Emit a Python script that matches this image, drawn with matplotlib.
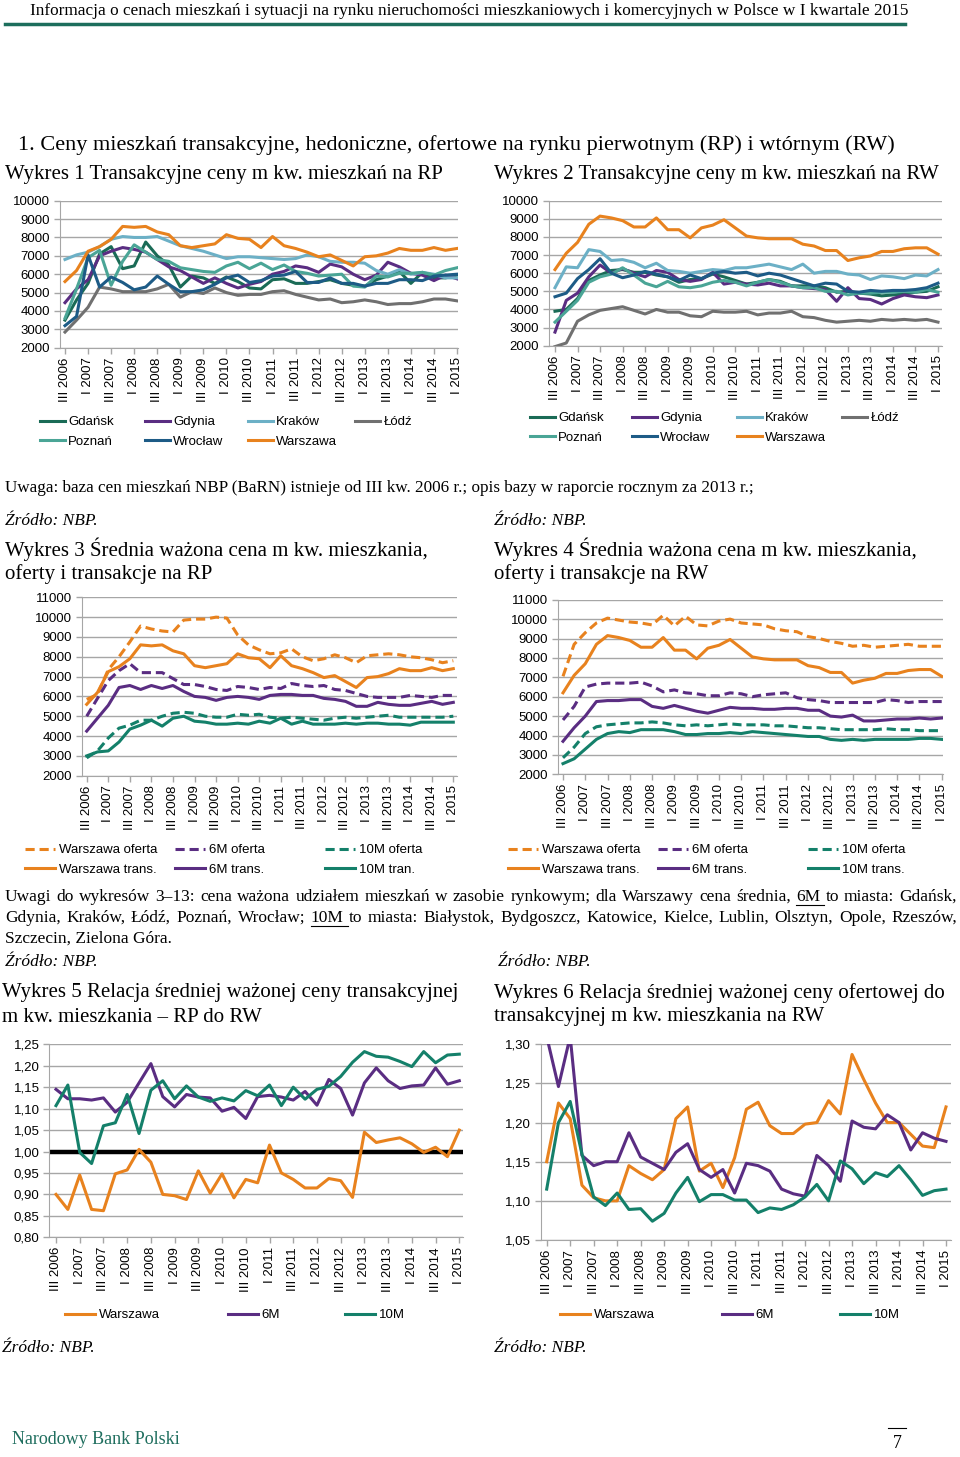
import numpy as np
import matplotlib.pyplot as plt
from matplotlib.lines import Line2D

# quarters III 2006 .. I 2015, labels on every second quarter
tick_labels = ['III 2006', 'I 2007', 'III 2007', 'I 2008', 'III 2008', 'I 2009',
               'III 2009', 'I 2010', 'III 2010', 'I 2011', 'III 2011', 'I 2012',
               'III 2012', 'I 2013', 'III 2013', 'I 2014', 'III 2014', 'I 2015']
n = 35

# Wykres 1 - transaction prices, primary market
gdansk_rp = [3500, 4600, 5500, 7100, 7500, 6300, 6450, 7750, 7000, 6500, 5300, 5900, 5800, 5500, 5850, 5600, 5250, 5200,
             5700, 5750, 5500, 5500, 5600, 5700, 5500, 5400, 5350, 5700, 5900, 6150, 5500, 6100, 5800, 5800, 5950]
gdynia_rp = [4450, 5200, 5700, 7000, 7250, 7450, 7350, 7200, 6800, 6400, 6200, 5850, 5500, 5800, 5500, 5250, 5450, 5600,
             6000, 6150, 6450, 6350, 6100, 6550, 6400, 6000, 5700, 5950, 6650, 6400, 6050, 5950, 5650, 5950, 5750]
krakow_rp = [6800, 7050, 7200, 7500, 7900, 8050, 8000, 8000, 8050, 7800, 7550, 7400, 7250, 7050, 6850, 6950, 6950, 6900,
             6850, 6800, 6850, 7050, 6950, 6700, 6650, 6650, 6600, 6200, 6000, 6250, 6000, 6100, 6000, 5800, 5800]
lodz_rp = [2850, 3500, 4200, 5300, 5200, 5050, 5050, 5050, 5200, 5450, 4750, 5050, 4950, 5250, 5000, 4850, 4900, 4900,
           5050, 5100, 4900, 4750, 4600, 4650, 4450, 4500, 4600, 4500, 4350, 4400, 4400, 4500, 4650, 4650, 4550]
poznan_rp = [3600, 5200, 6900, 7300, 5400, 6700, 7600, 7200, 6800, 6700, 6350, 6250, 6150, 6100, 6450, 6650, 6300, 6600,
             6250, 6500, 6150, 6050, 5900, 5950, 6000, 5350, 5300, 5900, 5850, 6050, 6050, 6100, 5950, 6200, 6350]
wroclaw_rp = [3200, 3700, 7050, 5300, 5850, 5550, 5150, 5300, 5900, 5450, 5050, 5050, 5150, 5450, 5800, 5950, 5550, 5650,
              5900, 5950, 6150, 5550, 5550, 5800, 5500, 5500, 5350, 5500, 5500, 5700, 5700, 5650, 5900, 5950, 6000]
warszawa_rp = [5600, 6200, 7250, 7500, 7900, 8600, 8550, 8600, 8300, 8150, 7550, 7450, 7550, 7650, 8150, 7950, 7900, 7450,
               8050, 7550, 7400, 7200, 6950, 7050, 6750, 6450, 6950, 7000, 7150, 7400, 7300, 7300, 7450, 7300, 7400]

# Wykres 2 - transaction prices, secondary market
gdansk_rw = [3900, 4000, 4600, 5600, 5900, 6150, 6200, 6050, 6050, 5900, 5800, 5500, 5650, 5700, 5950, 5800, 5600, 5400,
             5500, 5650, 5550, 5300, 5300, 5300, 5200, 4950, 5000, 4900, 4850, 4750, 4800, 4850, 4950, 5000, 5250]
gdynia_rw = [2750, 4500, 4900, 5800, 6450, 6000, 6250, 6000, 5800, 6150, 6050, 5650, 5550, 5650, 6050, 5400, 5500, 5400,
             5350, 5450, 5300, 5300, 5200, 5150, 5100, 4450, 5200, 4600, 4550, 4300, 4600, 4800, 4700, 4650, 4800]
krakow_rw = [5200, 6350, 6300, 7300, 7200, 6700, 6750, 6600, 6300, 6550, 6150, 6100, 6000, 6100, 6200, 6150, 6300, 6300,
             6400, 6500, 6350, 6200, 6500, 6000, 6100, 6100, 5950, 5900, 5650, 5850, 5800, 5700, 5900, 5850, 6200]
lodz_rw = [1950, 2150, 3350, 3700, 3950, 4050, 4150, 3950, 3750, 4000, 3850, 3850, 3650, 3600, 3900, 3850, 3850, 3900,
           3700, 3800, 3800, 3900, 3600, 3550, 3400, 3300, 3350, 3400, 3350, 3450, 3400, 3450, 3400, 3450, 3300]
poznan_rw = [3300, 3900, 4500, 5500, 5800, 5950, 6300, 5900, 5450, 5250, 5550, 5250, 5200, 5300, 5500, 5600, 5500, 5300,
             5500, 5650, 5500, 5300, 5200, 5200, 5000, 5000, 4800, 4900, 4900, 4950, 4950, 5000, 4950, 5100, 4950]
wroclaw_rw = [4700, 4900, 5700, 6200, 6800, 6000, 5750, 5900, 6100, 5950, 5800, 5600, 5900, 5700, 6000, 6100, 6000, 6050,
              5850, 6000, 5900, 5700, 5500, 5300, 5450, 5400, 5000, 4950, 5050, 5000, 5050, 5050, 5100, 5200, 5450]
warszawa_rw = [6200, 7100, 7700, 8700, 9150, 9050, 8900, 8550, 8550, 9050, 8400, 8400, 7950, 8500, 8650, 8950, 8500, 8050,
               7950, 7900, 7900, 7900, 7600, 7500, 7250, 7250, 6700, 6850, 6950, 7200, 7200, 7350, 7400, 7400, 7050]

# Wykres 3 - offer vs transaction, primary market
warszawa_rp_of = [5850, 6100, 7350, 8000, 8750, 9550, 9400, 9300, 9250, 9850, 9900, 9900, 10000, 9950, 9100, 8600, 8350,
                  8150, 8200, 8400, 8000, 7800, 7900, 8100, 7950, 7700, 8050, 8100, 8150, 8100, 8000, 7950, 7850, 7700, 7800]
m6_rp_of = [5000, 5900, 6800, 7300, 7650, 7200, 7200, 7200, 6900, 6600, 6600, 6500, 6350, 6300, 6500, 6450, 6350, 6450,
            6400, 6650, 6550, 6500, 6550, 6350, 6300, 6150, 6000, 5950, 5950, 5950, 6050, 6000, 5950, 6050, 6050]
m6_rp_tr = [4250, 4900, 5550, 6450, 6550, 6350, 6550, 6400, 6550, 6250, 6000, 5950, 5800, 5950, 6000, 5950, 5850, 6050,
            6100, 6100, 6050, 6050, 5900, 5850, 5750, 5500, 5500, 5700, 5600, 5550, 5550, 5650, 5750, 5600, 5700]
m10_rp_of = [2900, 3250, 3900, 4400, 4550, 4800, 4800, 5000, 5150, 5200, 5150, 5000, 4950, 4950, 5100, 5050, 5100, 4950,
             4900, 4950, 4900, 4850, 4800, 4900, 4950, 4900, 4950, 5000, 5050, 4950, 4950, 4950, 4950, 4950, 5000]
m10_rp_tr = [3000, 3200, 3250, 3700, 4350, 4550, 4800, 4500, 4900, 5000, 4750, 4700, 4600, 4600, 4650, 4600, 4750, 4650,
             4900, 4600, 4750, 4600, 4600, 4600, 4650, 4600, 4650, 4650, 4600, 4600, 4550, 4700, 4700, 4700, 4700]

# Wykres 4 - offer vs transaction, secondary market
warszawa_rw_of = [7050, 8700, 9300, 9800, 10050, 9950, 9850, 9800, 9700, 10200, 9650, 10150, 9700, 9650, 9900, 10000, 9800,
                  9750, 9700, 9500, 9400, 9350, 9100, 9000, 8850, 8750, 8600, 8650, 8550, 8600, 8650, 8700, 8600, 8600, 8600]
m6_rw_of = [4800, 5500, 6500, 6650, 6700, 6700, 6700, 6750, 6550, 6250, 6350, 6200, 6150, 6050, 6050, 6200, 6150, 6000,
            6100, 6150, 6200, 5950, 5850, 5800, 5700, 5700, 5700, 5700, 5700, 5850, 5800, 5700, 5750, 5750, 5750]
m6_rw_tr = [3700, 4400, 5000, 5750, 5800, 5800, 5850, 5850, 5500, 5400, 5550, 5400, 5250, 5150, 5300, 5450, 5400, 5400,
            5350, 5350, 5400, 5400, 5300, 5300, 5000, 4950, 5050, 4750, 4750, 4800, 4850, 4850, 4900, 4850, 4900]
m10_rw_of = [2850, 3400, 4100, 4450, 4550, 4600, 4650, 4650, 4700, 4650, 4550, 4500, 4550, 4500, 4550, 4600, 4550, 4550,
             4550, 4500, 4500, 4450, 4400, 4400, 4350, 4300, 4300, 4300, 4300, 4350, 4300, 4300, 4250, 4250, 4250]
m10_rw_tr = [2550, 2800, 3300, 3800, 4100, 4200, 4150, 4300, 4300, 4300, 4200, 4050, 4050, 4100, 4100, 4150, 4100, 4200,
             4150, 4100, 4050, 4000, 3950, 3950, 3800, 3750, 3800, 3750, 3800, 3800, 3800, 3800, 3850, 3850, 3800]

# Wykres 5 - RP / RW transaction price ratio
warszawa_rel = [0.900, 0.865, 0.945, 0.865, 0.862, 0.948, 0.957, 1.005, 0.975, 0.900, 0.897, 0.888, 0.955, 0.903, 0.948,
                0.892, 0.935, 0.927, 1.015, 0.950, 0.935, 0.915, 0.915, 0.937, 0.932, 0.893, 1.045, 1.021, 1.027, 1.032,
                1.018, 0.998, 1.010, 0.988, 1.050]
m6_rel = [1.145, 1.123, 1.123, 1.120, 1.125, 1.092, 1.115, 1.160, 1.205, 1.128, 1.104, 1.133, 1.127, 1.125, 1.094, 1.103,
          1.077, 1.128, 1.131, 1.127, 1.120, 1.140, 1.108, 1.168, 1.147, 1.085, 1.160, 1.195, 1.165, 1.147, 1.153, 1.155,
          1.195, 1.157, 1.165]
m10_rel = [1.107, 1.155, 0.998, 0.972, 1.060, 1.067, 1.133, 1.042, 1.143, 1.165, 1.123, 1.153, 1.127, 1.117, 1.125, 1.118,
           1.142, 1.130, 1.155, 1.107, 1.150, 1.122, 1.145, 1.152, 1.175, 1.208, 1.233, 1.222, 1.220, 1.210, 1.198, 1.233,
           1.207, 1.225, 1.227]

# Wykres 6 - offer / transaction ratio, secondary market
warszawa_oft = [1.150, 1.225, 1.205, 1.120, 1.104, 1.100, 1.100, 1.145, 1.135, 1.127, 1.140, 1.205, 1.220, 1.138, 1.148,
                1.117, 1.155, 1.217, 1.226, 1.196, 1.186, 1.186, 1.198, 1.200, 1.228, 1.211, 1.287, 1.255, 1.225, 1.200,
                1.200, 1.185, 1.170, 1.168, 1.220]
m6_oft = [1.310, 1.246, 1.310, 1.158, 1.145, 1.150, 1.150, 1.187, 1.156, 1.148, 1.140, 1.162, 1.173, 1.140, 1.130, 1.140,
          1.110, 1.148, 1.145, 1.138, 1.115, 1.109, 1.106, 1.158, 1.145, 1.125, 1.202, 1.194, 1.192, 1.210, 1.200, 1.165,
          1.187, 1.180, 1.176]
m10_oft = [1.115, 1.200, 1.227, 1.160, 1.105, 1.094, 1.110, 1.089, 1.090, 1.074, 1.084, 1.110, 1.130, 1.099, 1.108, 1.108,
           1.101, 1.101, 1.085, 1.091, 1.089, 1.095, 1.105, 1.121, 1.100, 1.151, 1.141, 1.122, 1.136, 1.131, 1.145, 1.127,
           1.107, 1.113, 1.115]

ORANGE = '#e8821e'
PURPLE = '#5a2d82'
GREEN = '#14806a'
city_colors = {'Gdańsk': '#1a6b56', 'Gdynia': PURPLE, 'Kraków': '#6cb0c6', 'Łódź': '#707070',
               'Poznań': '#4aa596', 'Wrocław': '#1d5b86', 'Warszawa': ORANGE}
SERIF = 'Liberation Serif'
SANS = 'Liberation Sans'
LW = 2.2
DASH = (0, (3, 1.6))

W, H = 960, 1457
fig = plt.figure(figsize=(W / 100, H / 100), dpi=100)


def fx(x):
    return x / W


def fy(y):
    return 1 - y / H


def put(x, y, s, size, **kw):
    return fig.text(fx(x), fy(y), s, fontsize=size, family=SERIF, va='center', ha='left', **kw)


def chart(l, t, r, b, xf, xl, ylo, yhi, step, fmt):
    ax = fig.add_axes([fx(l), fy(b), (r - l) / W, (b - t) / H])
    s = (xl - xf) / (n - 1)
    ax.set_xlim(-(xf - l) / s, n - 1 + (r - xl) / s)
    ax.set_ylim(ylo, yhi)
    yt = np.arange(ylo, yhi + step / 2, step)
    ax.set_yticks(yt)
    ax.set_yticklabels([fmt(v) for v in yt])
    ax.set_xticks(range(0, n, 2))
    ax.set_xticklabels(tick_labels, rotation=90)
    ax.grid(axis='y', color='#a6a6a6', lw=1)
    ax.set_axisbelow(True)
    for sp in ['top', 'right']:
        ax.spines[sp].set_visible(False)
    for sp in ['left', 'bottom']:
        ax.spines[sp].set_color('#a6a6a6')
    ax.tick_params(colors='#a6a6a6', labelcolor='black', labelsize=9.5, length=4, width=1, pad=3)
    for lab in ax.get_xticklabels() + ax.get_yticklabels():
        lab.set_family(SANS)
    return ax


def col_legend(handles, xs, y_row1, hlen):
    k = len(xs)
    for c, x in enumerate(xs):
        fig.legend(handles=handles[c::k], loc='upper left', bbox_to_anchor=(fx(x), fy(y_row1 - 4)),
                   frameon=False, borderpad=0, borderaxespad=0, handlelength=hlen, handletextpad=0.25,
                   labelspacing=0.55, prop={'family': SANS, 'size': 9.5})


def justify(words, x0, x1, y, size, underline=()):
    rend = fig.canvas.get_renderer()
    texts = [put(0, y, w, size) for w in words]
    widths = [t.get_window_extent(rend).width for t in texts]
    gap = (x1 - x0 - sum(widths)) / (len(words) - 1)
    x = x0
    for t, w, word in zip(texts, widths, words):
        t.set_x(fx(x))
        if word in underline:
            fig.add_artist(Line2D([fx(x), fx(x + w + gap * 0.8)], [fy(y + 8)] * 2, color='black', lw=0.8))
        x += w + gap


xs = np.arange(n)
fmt_int = lambda v: f'{v:.0f}'
fmt_dec = lambda v: f'{v:.2f}'.replace('.', ',')

# ---------- texts ----------
fig.text(fx(469), fy(11), 'Informacja o cenach mieszkań i sytuacji na rynku nieruchomości mieszkaniowych i komercyjnych '
         'w Polsce w I kwartale 2015', fontsize=12.4, family=SERIF, ha='center', va='center')
fig.add_artist(Line2D([fx(5), fx(905)], [fy(24)] * 2, color='#1c6e5c', lw=2.5))
put(18, 145, '1. Ceny mieszkań transakcyjne, hedoniczne, ofertowe na rynku pierwotnym (RP) i wtórnym (RW)', 16)
put(5, 174, 'Wykres 1 Transakcyjne ceny m kw. mieszkań na RP', 15)
put(494, 174, 'Wykres 2 Transakcyjne ceny m kw. mieszkań na RW', 15)
put(5, 488, 'Uwaga: baza cen mieszkań NBP (BaRN) istnieje od III kw. 2006 r.; opis bazy w raporcie rocznym za 2013 r.;', 12.3)
put(5, 521, 'Źródło: NBP.', 12.5, style='italic')
put(494, 521, 'Źródło: NBP.', 12.5, style='italic')
put(5, 549, 'Wykres 3 Średnia ważona cena m kw. mieszkania,', 15)
put(5, 574, 'oferty i transakcje na RP', 15)
put(494, 549, 'Wykres 4 Średnia ważona cena m kw. mieszkania,', 15)
put(494, 574, 'oferty i transakcje na RW', 15)
justify('Uwagi do wykresów 3–13: cena ważona udziałem mieszkań w zasobie rynkowym; dla Warszawy cena średnia, '
        '6M to miasta: Gdańsk,'.split(), 5, 957, 897, 12.5, underline=('6M',))
justify('Gdynia, Kraków, Łódź, Poznań, Wrocław; 10M to miasta: Białystok, Bydgoszcz, Katowice, Kielce, Lublin, '
        'Olsztyn, Opole, Rzeszów,'.split(), 5, 957, 918, 12.5, underline=('10M',))
put(5, 939, 'Szczecin, Zielona Góra.', 12.5)
put(5, 962, 'Źródło: NBP.', 12.5, style='italic')
put(498, 962, 'Źródło: NBP.', 12.5, style='italic')
put(2, 993, 'Wykres 5 Relacja średniej ważonej ceny transakcyjnej', 15)
put(2, 1017, 'm kw. mieszkania – RP do RW', 15)
put(494, 993, 'Wykres 6 Relacja średniej ważonej ceny ofertowej do', 15)
put(494, 1017, 'transakcyjnej m kw. mieszkania na RW', 15)
put(2, 1348, 'Źródło: NBP.', 12.5, style='italic')
put(494, 1348, 'Źródło: NBP.', 12.5, style='italic')
put(12, 1440, 'Narodowy Bank Polski', 13, color='#1f6e5e')
fig.add_artist(Line2D([fx(888), fx(906)], [fy(1428)] * 2, color='black', lw=0.8))
fig.text(fx(897), fy(1444), '7', fontsize=13, family=SERIF, ha='center', va='center')

# ---------- Wykres 1 ----------
ax1 = chart(60, 200.7, 458, 347.7, 65, 457, 2000, 10000, 1000, fmt_int)
rp = [gdansk_rp, gdynia_rp, krakow_rp, lodz_rp, poznan_rp, wroclaw_rp, warszawa_rp]
h1 = [ax1.plot(xs, v, color=c, lw=LW, label=name)[0] for v, (name, c) in zip(rp, city_colors.items())]
col_legend(h1, [40, 145, 248, 355], 420, 1.9)

# ---------- Wykres 2 ----------
ax2 = chart(549, 200.7, 942, 345.7, 555, 938, 2000, 10000, 1000, fmt_int)
rw = [gdansk_rw, gdynia_rw, krakow_rw, lodz_rw, poznan_rw, wroclaw_rw, warszawa_rw]
h2 = [ax2.plot(xs, v, color=c, lw=LW, label=name)[0] for v, (name, c) in zip(rw, city_colors.items())]
col_legend(h2, [530, 632, 737, 842], 416, 1.9)

# ---------- Wykres 3 ----------
ax3 = chart(82, 597.3, 457, 775.7, 86.7, 453.3, 2000, 11000, 1000, fmt_int)
h3 = [ax3.plot(xs, warszawa_rp_of, color=ORANGE, lw=LW, ls=DASH, label='Warszawa oferta')[0],
      ax3.plot(xs, m6_rp_of, color=PURPLE, lw=LW, ls=DASH, label='6M oferta')[0],
      ax3.plot(xs, m10_rp_of, color=GREEN, lw=LW, ls=DASH, label='10M oferta')[0],
      ax3.plot(xs, warszawa_rp, color=ORANGE, lw=LW, label='Warszawa trans.')[0],
      ax3.plot(xs, m6_rp_tr, color=PURPLE, lw=LW, label='6M trans.')[0],
      ax3.plot(xs, m10_rp_tr, color=GREEN, lw=LW, label='10M tran.')[0]]
col_legend(h3, [25, 175, 325], 848, 2.3)

# ---------- Wykres 4 ----------
ax4 = chart(558, 599.7, 943, 774.3, 563, 941.7, 2000, 11000, 1000, fmt_int)
h4 = [ax4.plot(xs, warszawa_rw_of, color=ORANGE, lw=LW, ls=DASH, label='Warszawa oferta')[0],
      ax4.plot(xs, m6_rw_of, color=PURPLE, lw=LW, ls=DASH, label='6M oferta')[0],
      ax4.plot(xs, m10_rw_of, color=GREEN, lw=LW, ls=DASH, label='10M oferta')[0],
      ax4.plot(xs, warszawa_rw, color=ORANGE, lw=LW, label='Warszawa trans.')[0],
      ax4.plot(xs, m6_rw_tr, color=PURPLE, lw=LW, label='6M trans.')[0],
      ax4.plot(xs, m10_rw_tr, color=GREEN, lw=LW, label='10M trans.')[0]]
col_legend(h4, [508, 658, 808], 848, 2.3)

# ---------- Wykres 5 ----------
ax5 = chart(49.3, 1044.3, 463.3, 1237.3, 56, 459.3, 0.80, 1.25, 0.05, fmt_dec)
ax5.axhline(1.0, color='black', lw=3.2)
h5 = [ax5.plot(xs, warszawa_rel, color=ORANGE, lw=LW, label='Warszawa')[0],
      ax5.plot(xs, m6_rel, color=PURPLE, lw=LW, label='6M')[0],
      ax5.plot(xs, m10_rel, color=GREEN, lw=LW, label='10M')[0]]
col_legend(h5, [65, 228, 345], 1313, 2.3)

# ---------- Wykres 6 ----------
ax6 = chart(540.7, 1044.3, 951, 1240, 546.7, 946, 1.05, 1.30, 0.05, fmt_dec)
h6 = [ax6.plot(xs, warszawa_oft, color=ORANGE, lw=LW, label='Warszawa')[0],
      ax6.plot(xs, m6_oft, color=PURPLE, lw=LW, label='6M')[0],
      ax6.plot(xs, m10_oft, color=GREEN, lw=LW, label='10M')[0]]
col_legend(h6, [560, 722, 840], 1313, 2.3)

fig.savefig('out.png', dpi=100)
